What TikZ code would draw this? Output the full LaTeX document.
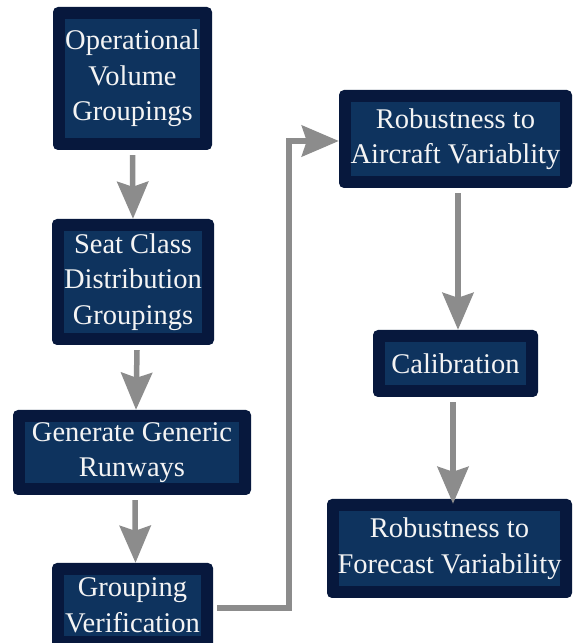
\documentclass[tikz,border=0pt]{standalone}
\usepackage{fontspec}
\setmainfont{Liberation Serif}
\newfontfamily\stagefont{Liberation Serif}
\usetikzlibrary{arrows.meta}
\definecolor{boxouter}{HTML}{07183D}
\definecolor{boxinner}{HTML}{0E335E}
\definecolor{boxtext}{HTML}{F4F4F4}
\definecolor{flow}{HTML}{8C8C8C}
\tikzset{
  stagebox/.style={
    fill=boxouter, rounded corners=5pt, inner sep=0pt, align=center,
    text=boxtext, font=\stagefont\fontsize{28.5}{35.5}\selectfont,
    path picture={
      \fill[boxinner, sharp corners]
        ([shift={(12pt,12pt)}]path picture bounding box.south west) rectangle
        ([shift={(-12pt,-12pt)}]path picture bounding box.north east);
    }
  },
  flowarrow/.style={
    draw=flow, line width=5.5pt,
    -{Stealth[length=37pt,width=31pt,inset=5pt]}
  }
}
\begin{document}
\begin{tikzpicture}[x=1pt,y=1pt]
\useasboundingbox (0,0) rectangle (574,643);
\clip (0,0) rectangle (574,643);
\fill[white] (0,0) rectangle (574,643);

% left column
\node[stagebox, minimum width=159pt, minimum height=143pt] (ops) at (132.5,564.5)
  {Operational\\Volume\\Groupings};
\node[stagebox, minimum width=162pt, minimum height=126pt] (seat) at (133,361)
  {Seat Class\\Distribution\\Groupings};
\node[stagebox, minimum width=238pt, minimum height=85pt] (run) at (132,190.5)
  {Generate Generic\\Runways};
\node[stagebox, minimum width=161pt, minimum height=85pt] (ver) at (132.5,37.5)
  {Grouping\\Verification};

% right column
\node[stagebox, minimum width=233pt, minimum height=98pt] (air) at (455.5,504)
  {Robustness to\\Aircraft Variablity};
\node[stagebox, minimum width=165pt, minimum height=67pt] (cal) at (455.5,279.5)
  {Calibration};
\node[stagebox, minimum width=245pt, minimum height=99pt] (fc) at (449.5,94.5)
  {Robustness to\\Forecast Variability};

% connectors
\draw[flowarrow] ([yshift=-5pt]ops.south) -- (seat.north);
\draw[flowarrow] ([xshift=4pt,yshift=-5pt]seat.south) -- ([xshift=4pt]run.north);
\draw[flowarrow] ([xshift=3pt,yshift=-5pt]run.south) -- ([xshift=3pt]ver.north);
\draw[flowarrow] ([xshift=4pt,yshift=-2.5pt]ver.east) -- ++(72,0) |- ([yshift=-2pt]air.west);
\draw[flowarrow] ([xshift=2.5pt,yshift=-5pt]air.south) -- ([xshift=2.5pt]cal.north);
\draw[flowarrow] ([xshift=-2.5pt,yshift=-5pt]cal.south) -- ([xshift=-2.5pt,yshift=-5pt]cal.south |- fc.north);
\end{tikzpicture}
\end{document}
